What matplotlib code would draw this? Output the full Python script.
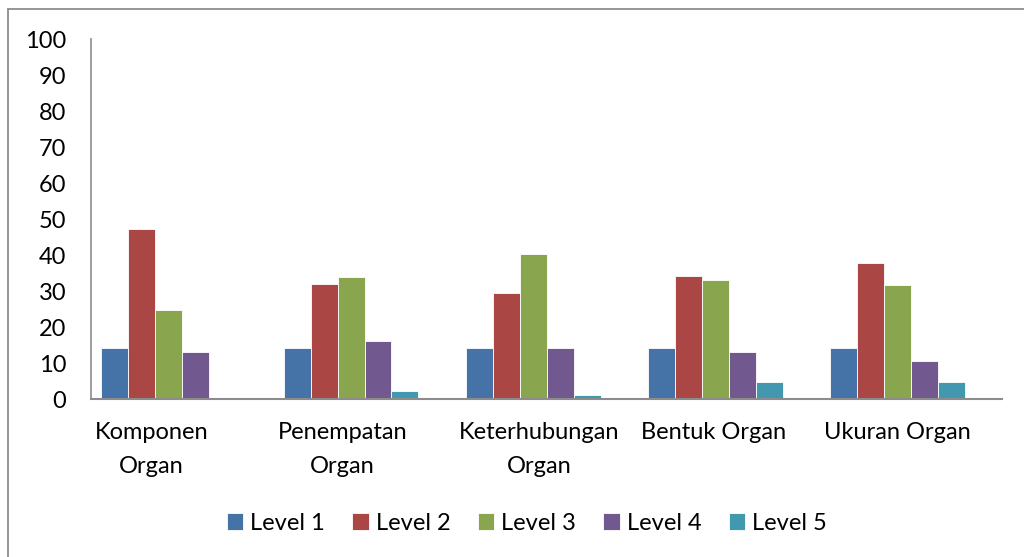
import numpy as np
import matplotlib.pyplot as plt
from matplotlib.patches import Rectangle

# values
categories = ["Komponen\nOrgan", "Penempatan\nOrgan", "Keterhubungan\nOrgan",
              "Bentuk Organ", "Ukuran Organ"]
series_names = ["Level 1", "Level 2", "Level 3", "Level 4", "Level 5"]
level1 = [14.1, 14.1, 14.1, 14.1, 14.1]
level2 = [47.3, 31.9, 29.5, 34.2, 37.8]
level3 = [24.8, 34.0, 40.2, 33.1, 31.7]
level4 = [13.0, 16.2, 14.1, 13.0, 10.5]
level5 = [0.0, 2.2, 1.0, 4.6, 4.6]
yticks = [0, 10, 20, 30, 40, 50, 60, 70, 80, 90, 100]

colors = ["#4572A7", "#AA4643", "#89A54E", "#71588F", "#4198AF"]
font = "Lato"
fs = 17

fig = plt.figure(figsize=(10.24, 5.57), dpi=100)
# outer chart frame
fig.patches.append(Rectangle((8 / 1024, -0.01), 1.02, 1 - 9 / 557 + 0.01,
                             transform=fig.transFigure, fill=False,
                             edgecolor="#8c8c8c", linewidth=1.3))

ax = fig.add_axes([91.3 / 1024, 1 - 399 / 557, (1002 - 91.3) / 1024, (399 - 39.3) / 557])

x = np.arange(len(categories))
w = 0.148  # Excel leaves room for 6 slots per category
all_series = [level1, level2, level3, level4, level5]
for i, vals in enumerate(all_series):
    ax.bar(x + (i - 2.5) * w, vals, width=w, color=colors[i],
           edgecolor="white", linewidth=0.6, label=series_names[i])

ax.set_xlim(-0.5, len(categories) - 0.5)
ax.set_ylim(0, 100)
ax.set_yticks(yticks)
ax.set_yticklabels([str(t) for t in yticks], fontsize=fs, family=font)
ax.tick_params(axis="y", length=0, pad=18)

ax.set_xticks([])
label_shift = [-0.17, -0.12, -0.04, -0.085, -0.075]
for i, lab in enumerate(categories):
    ax.text(x[i] + label_shift[i], -0.065, lab, transform=ax.get_xaxis_transform(),
            ha="center", va="top", fontsize=fs, family=font, linespacing=1.75)

for s in ["top", "right"]:
    ax.spines[s].set_visible(False)
ax.spines["left"].set_color("#8c8c8c")
ax.spines["bottom"].set_color("#8c8c8c")
ax.spines["left"].set_linewidth(1.2)
ax.spines["bottom"].set_linewidth(1.5)

fig.legend(loc="center", bbox_to_anchor=(527 / 1024, 1 - 523 / 557), ncol=5,
           frameon=False, prop={"family": font, "size": fs},
           handlelength=0.7, handleheight=0.7, handletextpad=0.3, columnspacing=1.15)

fig.savefig("out.png", dpi=100, facecolor="white")
